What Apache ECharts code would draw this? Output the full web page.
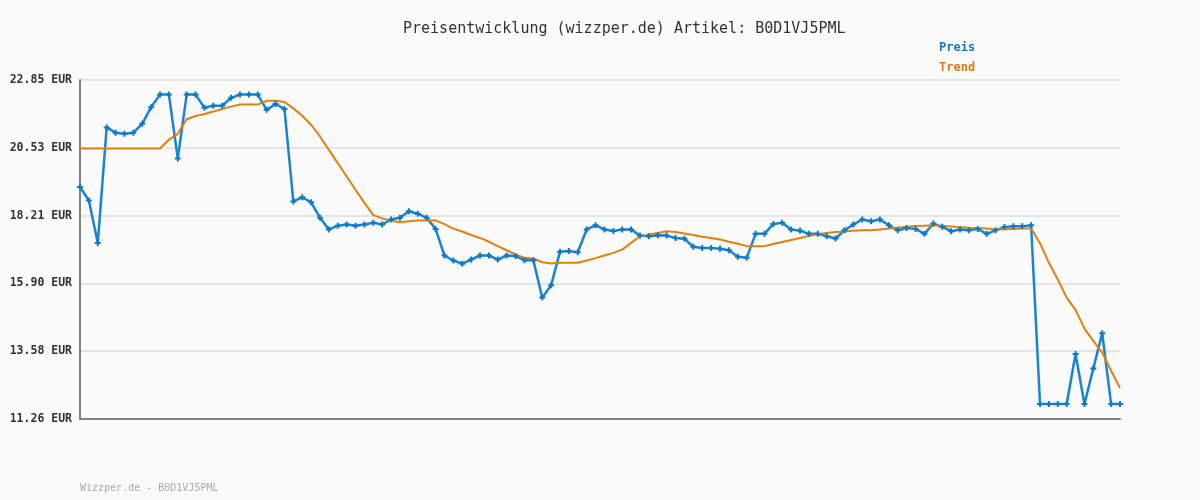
<!DOCTYPE html>
<html>
<head>
<meta charset="utf-8">
<title>Preisentwicklung</title>
<script src="https://cdn.jsdelivr.net/npm/echarts@6/dist/echarts.min.js"></script>
<style>
  html, body { margin: 0; padding: 0; background: #fafafa; }
  #chart { width: 1200px; height: 500px; }
</style>
</head>
<body>
<div id="chart"></div>
<script>
// Preisverlauf (EUR), ein Punkt pro Messung
var preis = [
  19.19, 18.73, 17.28, 21.23, 21.05, 21.01, 21.05, 21.35, 21.92, 22.35,
  22.35, 20.17, 22.35, 22.35, 21.90, 21.97, 21.97, 22.24, 22.35, 22.35,
  22.35, 21.83, 22.03, 21.86, 18.70, 18.84, 18.67, 18.14, 17.74, 17.87,
  17.91, 17.87, 17.91, 17.97, 17.91, 18.08, 18.14, 18.36, 18.28, 18.14,
  17.76, 16.85, 16.68, 16.57, 16.71, 16.85, 16.85, 16.71, 16.85, 16.83,
  16.69, 16.69, 15.41, 15.83, 16.98, 17.00, 16.96, 17.74, 17.88, 17.74,
  17.69, 17.74, 17.74, 17.53, 17.51, 17.54, 17.53, 17.45, 17.42, 17.15,
  17.11, 17.11, 17.08, 17.03, 16.81, 16.77, 17.59, 17.59, 17.93, 17.97,
  17.74, 17.70, 17.59, 17.59, 17.51, 17.43, 17.71, 17.91, 18.08, 18.02,
  18.08, 17.88, 17.71, 17.79, 17.76, 17.59, 17.94, 17.83, 17.68, 17.74,
  17.71, 17.76, 17.59, 17.71, 17.82, 17.85, 17.85, 17.88, 11.77, 11.77,
  11.77, 11.77, 13.48, 11.77, 12.99, 14.19, 11.77, 11.77
];

// Trendlinie (EUR)
var trend = [
  20.51, 20.51, 20.51, 20.51, 20.51, 20.51, 20.51, 20.51, 20.51, 20.51,
  20.81, 21.01, 21.51, 21.62, 21.69, 21.77, 21.86, 21.94, 22.01, 22.01,
  22.01, 22.14, 22.14, 22.10, 21.88, 21.63, 21.32, 20.92, 20.46, 20.01,
  19.55, 19.10, 18.65, 18.23, 18.12, 18.04, 17.99, 18.02, 18.05, 18.05,
  18.05, 17.92, 17.77, 17.67, 17.55, 17.45, 17.32, 17.17, 17.03, 16.89,
  16.77, 16.75, 16.62, 16.58, 16.60, 16.60, 16.60, 16.68, 16.76, 16.85,
  16.94, 17.05, 17.28, 17.51, 17.57, 17.62, 17.68, 17.65, 17.60, 17.55,
  17.49, 17.45, 17.40, 17.32, 17.25, 17.17, 17.17, 17.17, 17.24, 17.31,
  17.38, 17.45, 17.52, 17.58, 17.62, 17.65, 17.67, 17.70, 17.71, 17.71,
  17.74, 17.77, 17.80, 17.83, 17.86, 17.87, 17.88, 17.86, 17.84, 17.82,
  17.80, 17.79, 17.77, 17.74, 17.75, 17.76, 17.77, 17.77, 17.27, 16.60,
  16.03, 15.41, 14.99, 14.35, 13.93, 13.53, 12.91, 12.32
];

// keine Datumsbeschriftung sichtbar -> laufende Nummer
var messpunkte = preis.map(function (v, i) { return String(i + 1); });

var yMin = 11.26;
var yMax = 22.85;
var yStep = 2.318;

var mono = '"DejaVu Sans Mono", "Liberation Mono", monospace';

var chart = echarts.init(document.getElementById('chart'), null, { renderer: 'canvas' });

var option = {
  backgroundColor: '#fafafa',
  animation: false,
  title: [
    {
      text: 'Preisentwicklung (wizzper.de) Artikel: B0D1VJ5PML',
      left: 398,
      top: 17,
      textStyle: { fontFamily: mono, fontSize: 15, fontWeight: 'normal', color: '#333' }
    },
    {
      text: 'Wizzper.de - B0D1VJ5PML',
      left: 75,
      top: 478,
      textStyle: { fontFamily: mono, fontSize: 10, fontWeight: 'normal', color: '#aaa' }
    }
  ],
  legend: {
    orient: 'vertical',
    left: 934,
    top: 37,
    icon: 'none',
    itemWidth: 0,
    itemHeight: 10,
    itemGap: 8,
    textStyle: { fontFamily: mono, fontSize: 12, fontWeight: 'bold', padding: [0, 0, 0, -5] },
    data: [
      { name: 'Preis', textStyle: { color: '#1079c6' } },
      { name: 'Trend', textStyle: { color: '#dd7a0a' } }
    ]
  },
  grid: { left: 80, right: 80, top: 80, bottom: 81 },
  xAxis: {
    type: 'category',
    data: messpunkte,
    boundaryGap: false,
    axisLine: { show: true, lineStyle: { color: '#808080', width: 2 } },
    axisTick: { show: false },
    axisLabel: { show: false },
    splitLine: { show: false }
  },
  yAxis: {
    type: 'value',
    min: yMin,
    max: yMax,
    interval: yStep,
    axisLine: { show: true, lineStyle: { color: '#808080', width: 2 } },
    axisTick: { show: false },
    axisLabel: {
      fontFamily: mono,
      fontSize: 11.5,
      fontWeight: 'bold',
      color: '#333',
      margin: 8,
      formatter: function (v) { return v.toFixed(2) + ' EUR'; }
    },
    splitLine: { show: true, lineStyle: { color: '#e4e4e4', width: 2 } }
  },
  series: [
    {
      name: 'Preis',
      type: 'line',
      data: preis,
      symbol: 'path://M-1,-3L1,-3L1,-1L3,-1L3,1L1,1L1,3L-1,3L-1,1L-3,1L-3,-1L-1,-1Z',
      symbolSize: 6,
      showAllSymbol: true,
      itemStyle: { color: '#1079c6' },
      lineStyle: { color: '#1a83d2', width: 2.5 }
    },
    {
      name: 'Trend',
      type: 'line',
      data: trend,
      symbol: 'none',
      itemStyle: { color: '#dd7a0a' },
      lineStyle: { color: '#e0800f', width: 2 }
    }
  ]
};

chart.setOption(option);
</script>
</body>
</html>
